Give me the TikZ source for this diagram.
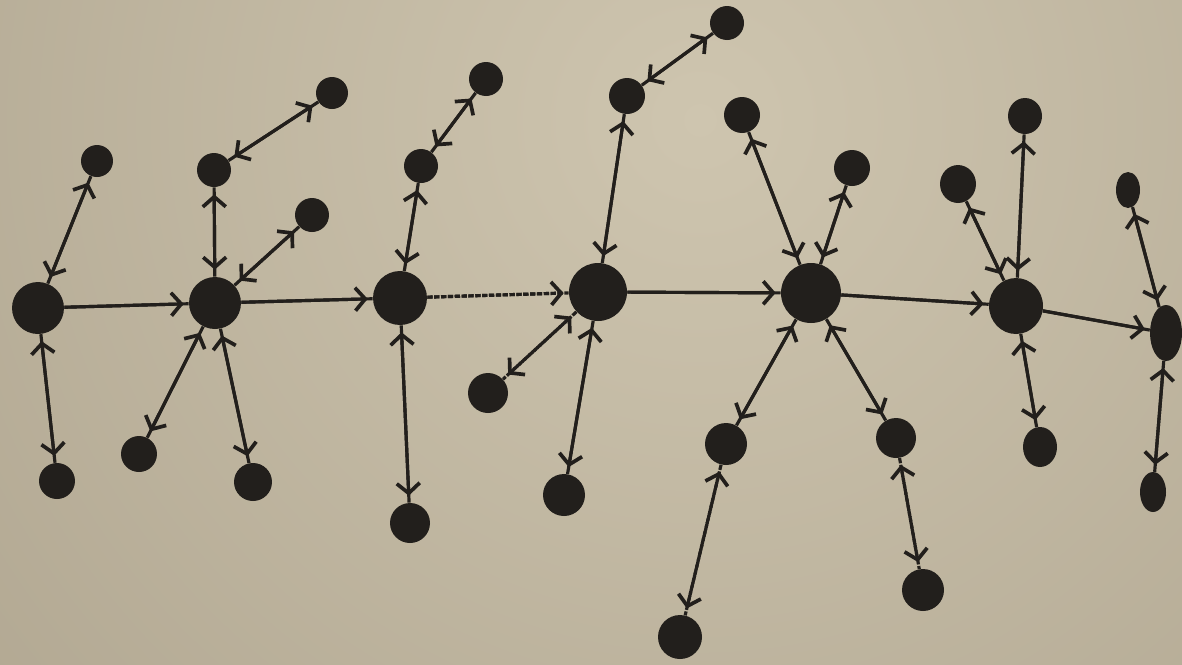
\documentclass[tikz,border=0pt]{standalone}
\usetikzlibrary{arrows.meta,shapes.geometric}
\definecolor{ink}{RGB}{34,31,28}
\definecolor{paperlight}{RGB}{206,197,175}
\definecolor{paperdark}{RGB}{146,135,114}
\begin{document}
\begin{tikzpicture}[x=0.02cm,y=-0.02cm,
  dot/.style 2 args={ellipse, fill=ink, draw=none, inner sep=0pt,
    minimum width=#1*0.04cm, minimum height=#2*0.04cm},
  >={Straight Barb[length=0.2cm,width=0.46cm,line width=2.1pt]},
  stem/.style={draw=ink, line width=1.8pt},
  link/.style={draw=ink, line width=1.8pt, <->,
    shorten <=0.14cm, shorten >=0.14cm},
  flow/.style={draw=ink, line width=1.8pt, ->, shorten >=0.1cm},
  grainy/.style={dash pattern=on 3pt off 0.9pt}]
% paper
\useasboundingbox (0,0) rectangle (1182,664);
\clip (0,0) rectangle (1182,664);
\shade[inner color=paperlight, outer color=paperdark] (700,120) circle (40cm);

% hubs along the main chain
\node[dot={26}{26}] (H1) at (38,308) {};
\node[dot={26}{26}] (H2) at (215,303) {};
\node[dot={27}{27}] (H3) at (400,298) {};
\node[dot={29}{29}] (H4) at (598,292) {};
\node[dot={30}{30}] (H5) at (811,293) {};
\node[dot={27}{28}] (H6) at (1016,306) {};
\node[dot={16}{28}] (H7) at (1166,333) {};

% leaves
\node[dot={16}{16}] (a1) at (97,161) {};
\node[dot={18}{18}] (a2) at (57,481) {};
\node[dot={17}{17}] (b1) at (214,170) {};
\node[dot={16}{16}] (b2) at (332,93) {};
\node[dot={17}{17}] (b3) at (312,215) {};
\node[dot={18}{18}] (b4) at (139,454) {};
\node[dot={19}{19}] (b5) at (253,482) {};
\node[dot={17}{17}] (c1) at (421,166) {};
\node[dot={17}{17}] (c2) at (486,79) {};
\node[dot={20}{20}] (c3) at (488,393) {};
\node[dot={20}{20}] (c4) at (410,523) {};
\node[dot={18}{18}] (d1) at (627,96) {};
\node[dot={17}{17}] (d2) at (727,23) {};
\node[dot={21}{21}] (d3) at (564,495) {};
\node[dot={18}{18}] (e1) at (742,115) {};
\node[dot={18}{18}] (e2) at (852,168) {};
\node[dot={21}{21}] (e3) at (726,444) {};
\node[dot={20}{20}] (e4) at (896,438) {};
\node[dot={22}{22}] (e5) at (680,637) {};
\node[dot={21}{21}] (e6) at (923,590) {};
\node[dot={18}{19}] (f1) at (958,184) {};
\node[dot={17}{18}] (f2) at (1025,116) {};
\node[dot={17}{20}] (f3) at (1040,447) {};
\node[dot={12}{18}] (g1) at (1128,190) {};
\node[dot={13}{20}] (g2) at (1153,492) {};

% main chain, left to right
\foreach \a/\b in {H1/H2, H2/H3, H4/H5, H5/H6, H6/H7} {
  \draw[stem] (\a) -- (\b);
  \draw[flow] (\a) -- (\b);
}
\draw[stem, grainy] (H3) -- (H4);
\draw[flow, grainy] (H3) -- (H4);

% two-way links
\foreach \a/\b in {H1/a1, H1/a2, H2/b1, b1/b2, H2/b3, H2/b4, H2/b5,
                   H3/c1, c1/c2, H3/c4, H4/d1, d1/d2, H4/d3,
                   H5/e1, H5/e2, H5/e3, H5/e4,
                   H6/f1, H6/f2, H6/f3, H7/g1, H7/g2} {
  \draw[stem] (\a) -- (\b);
  \draw[link] (\a) -- (\b);
}
\foreach \a/\b in {H4/c3, e3/e5, e4/e6} {
  \draw[stem, grainy] (\a) -- (\b);
  \draw[link, grainy] (\a) -- (\b);
}
\end{tikzpicture}
\end{document}
